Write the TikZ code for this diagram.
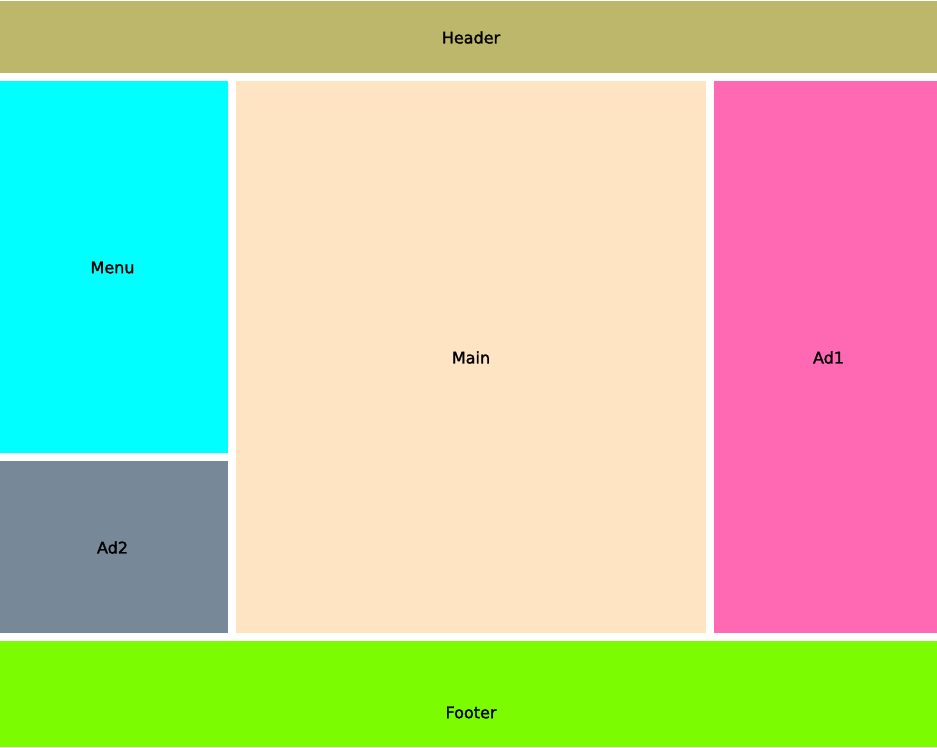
\documentclass[tikz,border=0pt]{standalone}
\usepackage{fontspec}
\setmainfont{DejaVu Sans}
\newfontfamily\lblfont{DejaVu Sans}[FakeBold=1.6]
\definecolor{hdr}{HTML}{BDB76B}
\definecolor{menuc}{HTML}{00FFFF}
\definecolor{adtwo}{HTML}{778899}
\definecolor{mainc}{HTML}{FFE4C4}
\definecolor{adone}{HTML}{FF69B4}
\definecolor{foot}{HTML}{7CFC00}
\tikzset{
  lbl/.style={font=\lblfont\fontsize{16pt}{19pt}\selectfont, text=black, inner sep=0pt}
}
\begin{document}
\begin{tikzpicture}[x=1pt,y=-1pt]
\useasboundingbox (0,0) rectangle (937,747);
\fill[white] (0,0) rectangle (937,747);
\fill[hdr] (0,1) rectangle (937,73);
\fill[menuc] (0,81) rectangle (228,453);
\fill[adtwo] (0,461) rectangle (228,633);
\fill[mainc] (236,81) rectangle (706,633);
\fill[adone] (714,81) rectangle (937,633);
\fill[foot] (0,641) rectangle (937,747);
\node[lbl] (header) at (471,37.5) {Header};
\node[lbl] (menu) at (112.5,267.5) {Menu};
\node[lbl] (ad2) at (112.5,547.5) {Ad2};
\node[lbl] (main) at (471,357.5) {Main};
\node[lbl] (ad1) at (828.5,357.5) {Ad1};
\node[lbl] (footer) at (471,712.5) {Footer};
\end{tikzpicture}
\end{document}
